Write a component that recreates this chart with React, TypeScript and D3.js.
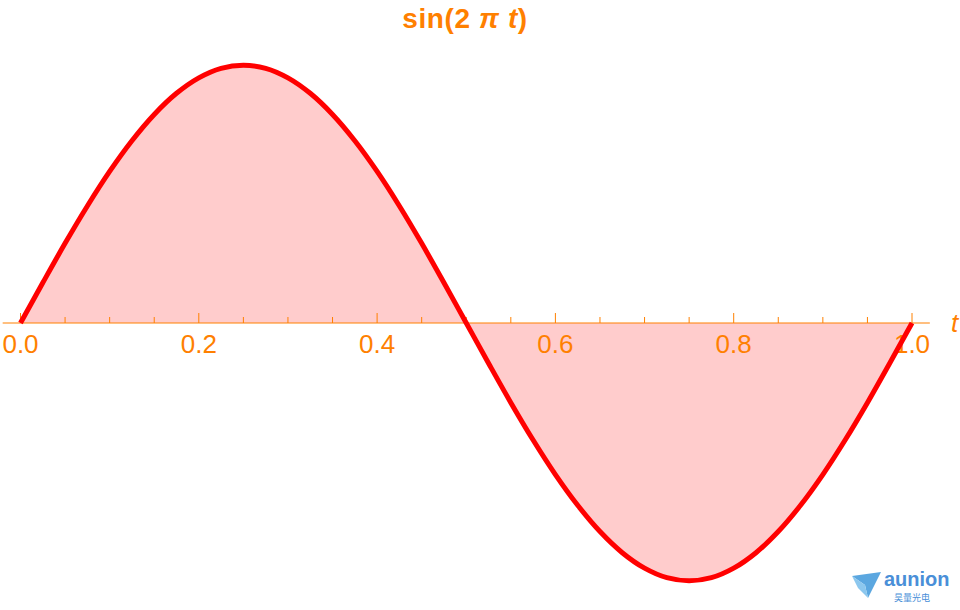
import React from "react";
import * as d3 from "d3";

const W = 960;
const H = 610;

// t samples and sin(2πt) values
const tValues = [
  0, 0.025, 0.05, 0.075, 0.1, 0.125, 0.15, 0.175, 0.2, 0.225, 0.25,
  0.275, 0.3, 0.325, 0.35, 0.375, 0.4, 0.425, 0.45, 0.475, 0.5,
  0.525, 0.55, 0.575, 0.6, 0.625, 0.65, 0.675, 0.7, 0.725, 0.75,
  0.775, 0.8, 0.825, 0.85, 0.875, 0.9, 0.925, 0.95, 0.975, 1.0,
];
const yValues = [
  0, 0.156, 0.309, 0.454, 0.588, 0.707, 0.809, 0.891, 0.951, 0.988, 1.0,
  0.988, 0.951, 0.891, 0.809, 0.707, 0.588, 0.454, 0.309, 0.156, 0,
  -0.156, -0.309, -0.454, -0.588, -0.707, -0.809, -0.891, -0.951, -0.988, -1.0,
  -0.988, -0.951, -0.891, -0.809, -0.707, -0.588, -0.454, -0.309, -0.156, 0,
];
const majorTicks = [0, 0.2, 0.4, 0.6, 0.8, 1.0];
const minorTicks = [0.05, 0.1, 0.15, 0.25, 0.3, 0.35, 0.45, 0.5, 0.55, 0.65, 0.7, 0.75, 0.85, 0.9, 0.95];

const ORANGE = "#FF8000";

export default function App() {
  const x = d3.scaleLinear().domain([0, 1]).range([20.5, 912]);
  const y = d3.scaleLinear().domain([-1, 1]).range([580.8, 65.2]);
  const pts = tValues.map((t, i) => [t, yValues[i]] as [number, number]);

  const line = d3
    .line<[number, number]>()
    .x((d) => x(d[0]))
    .y((d) => y(d[1]))
    .curve(d3.curveCatmullRom.alpha(0.5));
  const area = d3
    .area<[number, number]>()
    .x((d) => x(d[0]))
    .y0(y(0))
    .y1((d) => y(d[1]))
    .curve(d3.curveCatmullRom.alpha(0.5));

  const axisY = y(0);
  const fmt = d3.format(".1f");

  return (
    <svg
      width={W}
      height={H}
      style={{ position: "absolute", left: 0, top: 0, background: "#fff" }}
      fontFamily="'Liberation Sans', Arial, sans-serif"
    >
      <path d={area(pts) || ""} fill="#FFCCCC" stroke="none" />
      {/* axis line */}
      <line x1={x(-0.02)} x2={x(1.02)} y1={axisY} y2={axisY} stroke={ORANGE} strokeWidth={1.2} />
      {majorTicks.map((t) => (
        <line key={"M" + t} x1={x(t)} x2={x(t)} y1={axisY} y2={axisY - 10} stroke={ORANGE} strokeWidth={1} />
      ))}
      {minorTicks.map((t) => (
        <line key={"m" + t} x1={x(t)} x2={x(t)} y1={axisY} y2={axisY - 6} stroke={ORANGE} strokeWidth={1} />
      ))}
      {majorTicks.map((t) => (
        <text key={"L" + t} x={x(t)} y={axisY + 30} fontSize={26} fill={ORANGE} textAnchor="middle">
          {fmt(t)}
        </text>
      ))}
      <path d={line(pts) || ""} fill="none" stroke="#FF0000" strokeWidth={5} />
      {/* axis label */}
      <text x={951} y={axisY + 9} fontSize={26} fill={ORANGE} fontStyle="italic">
        t
      </text>
      {/* title */}
      <text x={465} y={28} fontSize={28} fill={ORANGE} fontWeight="bold" textAnchor="middle" letterSpacing={0.6}>
        sin(2 <tspan fontStyle="italic">π</tspan> <tspan fontStyle="italic">t</tspan>)
      </text>
      {/* watermark */}
      <g>
        <polygon points="852,576 881,572 868,598 865,585" fill="#5BA7E0" />
        <polygon points="852,576 865,585 868,598 858,588" fill="#8CC7EE" />
        <text x={884} y={586} fontSize={20} fontWeight="bold" fill="#4A8FD8">
          aunion
        </text>
        <text x={894} y={601} fontSize={9} fill="#4A8FD8" fontFamily="'Noto Sans CJK SC', sans-serif">
          昊量光电
        </text>
      </g>
    </svg>
  );
}
